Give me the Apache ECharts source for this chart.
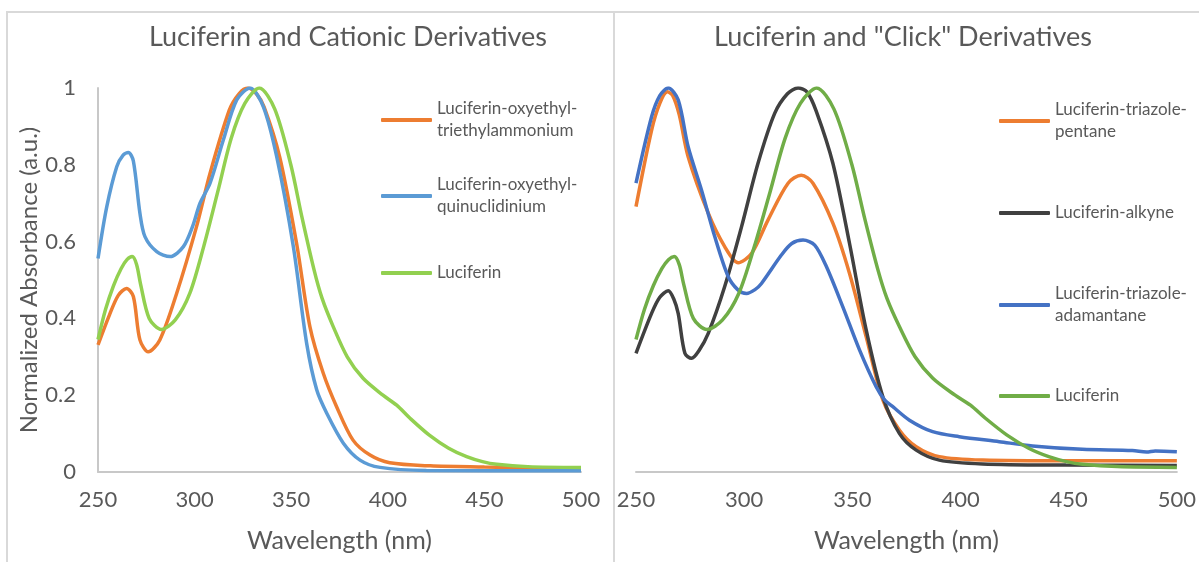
<!DOCTYPE html>
<html>
<head>
<meta charset="utf-8">
<script src="https://cdn.jsdelivr.net/npm/echarts@6/dist/echarts.min.js"></script>
<style>
  html, body { margin: 0; padding: 0; background: #fff; }
  #main { width: 1199px; height: 562px; }
</style>
</head>
<body>
<div id="main"></div>
<script>
// x ticks / y ticks
const xTicks = [250, 300, 350, 400, 450, 500];
const yTicks = [0, 0.2, 0.4, 0.6, 0.8, 1];

// left panel: cationic derivatives  [wavelength nm, normalized absorbance]
const oxyTriethyl = [[250,0.331],[256,0.41],[260.5,0.46],[264.8,0.478],[268.3,0.457],[271.7,0.344],[276,0.313],[282,0.344],[290.7,0.465],[301,0.639],[308,0.778],[318,0.943],[323,0.985],[327.5,1.0],[332,0.985],[336,0.95],[344,0.821],[352.8,0.595],[359.7,0.378],[366.6,0.257],[373.5,0.17],[382,0.083],[390.8,0.044],[401,0.024],[422,0.016],[450,0.013],[475,0.011],[500,0.009]];
const oxyQuinuc = [[250,0.556],[254.5,0.69],[259.7,0.795],[263,0.825],[265.7,0.832],[268.3,0.81],[271.7,0.674],[274.3,0.613],[280.4,0.574],[287.3,0.561],[294.2,0.587],[299,0.64],[302.8,0.70],[308,0.752],[314.9,0.865],[321.8,0.969],[328.7,1.0],[335.6,0.951],[342.5,0.821],[351.1,0.587],[358,0.335],[363.2,0.214],[368.4,0.153],[377,0.075],[385.6,0.031],[396,0.012],[420,0.004],[500,0.003]];
const luciferin = [[250,0.345],[254,0.425],[258,0.485],[262,0.53],[265,0.553],[267.7,0.561],[270,0.54],[272,0.49],[276.5,0.40],[282.8,0.371],[290,0.396],[297.5,0.465],[304.7,0.587],[312,0.73],[319,0.87],[326,0.96],[333.5,1.0],[341.5,0.945],[349.8,0.80],[355.5,0.665],[361.8,0.527],[366,0.452],[371.8,0.378],[379,0.30],[387.2,0.244],[397.5,0.20],[404.6,0.174],[411.5,0.14],[421.5,0.096],[431.5,0.062],[440.8,0.04],[449,0.027],[456.4,0.02],[472.5,0.014],[500,0.012]];

// right panel: "click" derivatives
const triazolePentane = [[250,0.691],[257.2,0.89],[261,0.96],[264.5,0.99],[267,0.98],[270,0.93],[274.1,0.821],[283.4,0.674],[291,0.587],[297.2,0.545],[303.4,0.569],[311,0.656],[320.3,0.752],[326.4,0.773],[331.8,0.752],[341,0.648],[348.7,0.517],[356.4,0.352],[364.1,0.188],[371.8,0.109],[379.5,0.066],[390.2,0.04],[410.2,0.031],[450,0.029],[500,0.029]];
const alkyne = [[250,0.309],[257.2,0.413],[261,0.455],[264.9,0.472],[267.5,0.45],[269.5,0.413],[272.6,0.309],[275.7,0.296],[279,0.315],[283.4,0.361],[291,0.483],[298.8,0.639],[306.4,0.804],[314.1,0.934],[320,0.985],[324.9,1.0],[329,0.99],[333.3,0.94],[341,0.804],[348.7,0.595],[356.4,0.37],[364.1,0.196],[371.8,0.10],[379.5,0.057],[390.2,0.031],[410.2,0.021],[448.7,0.018],[500,0.017]];
const triazoleAdamantane = [[250,0.752],[257.2,0.925],[261,0.98],[264.9,1.0],[269.5,0.969],[274.1,0.847],[280.3,0.734],[286.4,0.613],[292.6,0.509],[297,0.475],[301.1,0.465],[305,0.475],[308,0.491],[317.2,0.565],[322,0.595],[327.2,0.604],[332.6,0.591],[338,0.535],[345.6,0.43],[353.3,0.318],[361,0.222],[364.9,0.188],[368.7,0.17],[376.4,0.135],[387.1,0.105],[399.4,0.092],[417.9,0.079],[433.3,0.068],[456.3,0.059],[479.4,0.056],[486,0.052],[490,0.055],[500,0.053]];

const FONT = 'Lato';
const GRAY = '#595959';

const legendLabels = {
  'Luciferin-oxyethyl-triethylammonium': 'Luciferin-oxyethyl-\ntriethylammonium',
  'Luciferin-oxyethyl-quinuclidinium': 'Luciferin-oxyethyl-\nquinuclidinium',
  'Luciferin-triazole-pentane': 'Luciferin-triazole-\npentane',
  'Luciferin-triazole-adamantane': 'Luciferin-triazole-\nadamantane',
  'Luciferin': 'Luciferin',
  'Luciferin-alkyne': 'Luciferin-alkyne'
};

function line(name, data, color, idx) {
  return {
    name: name, type: 'line', data: data,
    xAxisIndex: idx, yAxisIndex: idx,
    smooth: 0.3, showSymbol: false, symbol: 'none',
    lineStyle: { color: color, width: 3.5 },
    itemStyle: { color: color }
  };
}

function legendItem(name, color, left, top, twoLines) {
  return {
    data: [{ name: name, itemStyle: { color: color } }],
    left: left, top: top, padding: 0,
    icon: 'roundRect', itemWidth: 51, itemHeight: 4,
    selectedMode: false,
    formatter: n => legendLabels[n],
    textStyle: {
      fontFamily: FONT, fontSize: 17, color: GRAY, lineHeight: 22,
      padding: twoLines ? [22, 0, 0, 0] : 0
    }
  };
}

function xAxis(idx) {
  return {
    type: 'value', gridIndex: idx, min: 250, max: 500, interval: 50,
    name: 'Wavelength (nm)', nameLocation: 'middle', nameGap: 56,
    nameTextStyle: { fontFamily: FONT, fontSize: 25, color: GRAY },
    axisLine: { lineStyle: { color: '#c8c8c8', width: 2 } },
    axisTick: { show: false }, splitLine: { show: false },
    axisLabel: { margin: 17, fontFamily: FONT, fontSize: 22, color: GRAY }
  };
}

const chart = echarts.init(document.getElementById('main'));
const option = {
  backgroundColor: '#fff',
  animation: false,
  title: [
    { text: 'Luciferin and Cationic Derivatives', left: 343, top: 19, textAlign: 'center',
      textStyle: { fontFamily: FONT, fontSize: 27, fontWeight: 'normal', color: GRAY } },
    { text: 'Luciferin and "Click" Derivatives', left: 898, top: 19, textAlign: 'center',
      textStyle: { fontFamily: FONT, fontSize: 27, fontWeight: 'normal', color: GRAY } }
  ],
  graphic: [
    { type: 'rect', shape: { x: 7, y: 12, width: 607, height: 570 }, style: { fill: 'none', stroke: '#d9d9d9', lineWidth: 2 }, silent: true },
    { type: 'rect', shape: { x: 614, y: 12, width: 600, height: 570 }, style: { fill: 'none', stroke: '#d9d9d9', lineWidth: 2 }, silent: true }
  ],
  grid: [
    { left: 98, top: 88, width: 483, height: 384 },
    { left: 636, top: 88, width: 542, height: 384 }
  ],
  xAxis: [xAxis(0), xAxis(1)],
  yAxis: [
    { type: 'value', gridIndex: 0, min: 0, max: 1, interval: 0.2,
      name: 'Normalized Absorbance (a.u.)', nameLocation: 'middle', nameGap: 55,
      nameTextStyle: { fontFamily: FONT, fontSize: 24, color: GRAY },
      axisLine: { show: true, lineStyle: { color: '#c8c8c8', width: 2 } },
      axisTick: { show: false }, splitLine: { show: false },
      axisLabel: { margin: 22, fontFamily: FONT, fontSize: 22, color: GRAY } },
    { type: 'value', gridIndex: 1, min: 0, max: 1, interval: 0.2,
      axisLine: { show: false }, axisTick: { show: false }, splitLine: { show: false },
      axisLabel: { show: false } }
  ],
  legend: [
    legendItem('Luciferin-oxyethyl-triethylammonium', '#ED7D31', 381, 87, true),
    legendItem('Luciferin-oxyethyl-quinuclidinium', '#5B9BD5', 381, 163, true),
    legendItem('Luciferin', '#92D050', 381, 262, false),
    legendItem('Luciferin-triazole-pentane', '#ED7D31', 999, 88, true),
    legendItem('Luciferin-alkyne', '#404040', 999, 202, false),
    legendItem('Luciferin-triazole-adamantane', '#4472C4', 999, 272, true),
    legendItem('Luciferin', '#70AD47', 999, 385, false)
  ],
  series: [
    line('Luciferin-oxyethyl-triethylammonium', oxyTriethyl, '#ED7D31', 0),
    line('Luciferin-oxyethyl-quinuclidinium', oxyQuinuc, '#5B9BD5', 0),
    line('Luciferin', luciferin, '#92D050', 0),
    line('Luciferin-triazole-pentane', triazolePentane, '#ED7D31', 1),
    line('Luciferin-alkyne', alkyne, '#404040', 1),
    line('Luciferin-triazole-adamantane', triazoleAdamantane, '#4472C4', 1),
    line('Luciferin', luciferin, '#70AD47', 1)
  ]
};
option && chart.setOption(option);
</script>
</body>
</html>
